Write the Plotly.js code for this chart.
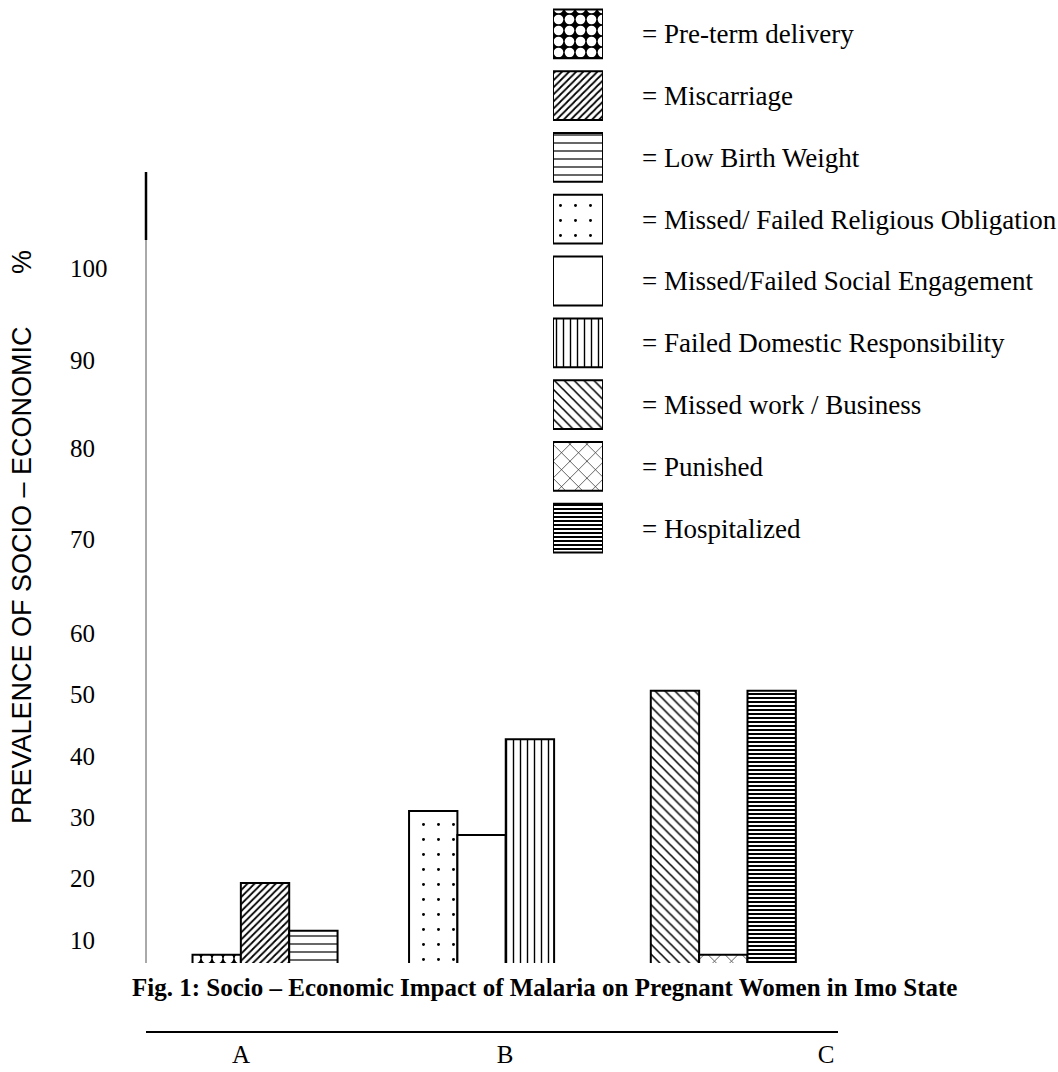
<!DOCTYPE html>
<html>
<head>
<meta charset="utf-8">
<script src="https://cdn.plot.ly/plotly-3.0.1.min.js"></script>
<style>html,body{margin:0;padding:0;background:#fff;}#chart{width:1058px;height:1072px;}</style>
</head>
<body>
<div id="chart"></div>
<script>
// ---------- data ----------
const groups = ['A', 'B', 'C'];
const seriesNames = [
  'Pre-term delivery',
  'Miscarriage',
  'Low Birth Weight',
  'Missed/ Failed Religious Obligation',
  'Missed/Failed Social Engagement',
  'Failed Domestic Responsibility',
  'Missed work / Business',
  'Punished',
  'Hospitalized'
];
const seriesGroup = ['A', 'A', 'A', 'B', 'B', 'B', 'C', 'C', 'C'];
const seriesValues = [7.6, 19.3, 11.5, 31.0, 27.1, 42.7, 50.6, 7.6, 50.6];
const yTickText = ['10', '20', '30', '40', '50', '60', '70', '80', '90', '100'];

// ---------- layout / style settings ----------
const W = 1058, H = 1072;
const yTickVals = [10, 20, 30, 40, 50, 60, 75.2, 90.1, 104.5, 119.4]; // label spacing as printed
const groupLabelShift = [-0.105, 0.047, 0.448];
const barWidth = 0.211;
const barOffset = [-0.317, -0.106, 0.105, -0.372, -0.161, 0.050, -0.317, -0.106, 0.105];
const patterns = [
  {shape: '.', bgcolor: '#000', fgcolor: '#fff', size: 11, solidity: 0.6},
  {shape: '/', bgcolor: '#fff', fgcolor: '#000', size: 5, solidity: 0.35},
  {shape: '-', bgcolor: '#fff', fgcolor: '#000', size: 8, solidity: 0.15},
  {shape: '.', bgcolor: '#fff', fgcolor: '#000', size: 15, solidity: 0.03},
  {shape: '',  bgcolor: '#fff', fgcolor: '#000', size: 8, solidity: 0.1},
  {shape: '|', bgcolor: '#fff', fgcolor: '#000', size: 7, solidity: 0.2},
  {shape: '\\', bgcolor: '#fff', fgcolor: '#000', size: 7, solidity: 0.22},
  {shape: 'x', bgcolor: '#fff', fgcolor: '#000', size: 12, solidity: 0.1},
  {shape: '-', bgcolor: '#fff', fgcolor: '#000', size: 4, solidity: 0.5}
];
const serif = 'Liberation Serif, Times New Roman, serif';
const sans = 'Liberation Sans, Arial, sans-serif';
const px = v => v / W;             // x pixel -> paper
const py = v => (H - v) / H;       // y pixel -> paper

// ---------- traces ----------
const traces = seriesNames.map((name, i) => ({
  type: 'bar',
  name: name,
  x: [groups.indexOf(seriesGroup[i])],
  y: [seriesValues[i]],
  width: barWidth,
  offset: barOffset[i],
  marker: {
    color: '#fff',
    line: {color: '#000', width: 2},
    pattern: Object.assign({fillmode: 'replace'}, patterns[i])
  },
  hoverinfo: 'skip'
}));

// legend swatches, drawn as a small bar chart of its own
traces.push({
  type: 'bar',
  orientation: 'h',
  x: seriesNames.map(() => 1),
  y: seriesNames,
  width: 0.79,
  xaxis: 'x3',
  yaxis: 'y3',
  marker: {
    color: '#fff',
    line: {color: '#000', width: 2},
    pattern: {
      fillmode: 'replace',
      shape: patterns.map(p => p.shape),
      bgcolor: patterns.map(p => p.bgcolor),
      fgcolor: patterns.map(p => p.fgcolor),
      size: patterns.map(p => p.size),
      solidity: patterns.map(p => p.solidity)
    }
  },
  hoverinfo: 'skip'
});

const yDomTop = 172, yDomBot = 1031;
const ydom = v => (yDomBot - v) / (yDomBot - yDomTop);

const layout = {
  width: W, height: H,
  margin: {l: 0, r: 0, t: 0, b: 0, pad: 0},
  paper_bgcolor: '#fff', plot_bgcolor: '#fff',
  showlegend: false,
  hovermode: false,
  barmode: 'overlay',
  font: {family: serif, color: '#000'},
  xaxis: {
    type: 'linear',
    domain: [px(146), px(838)],
    range: [-0.52, 2.5],
    showgrid: false, zeroline: false,
    showline: true, linecolor: '#000', linewidth: 2,
    ticks: '',
    tickmode: 'array',
    tickvals: groups.map((g, i) => i + groupLabelShift[i]),
    ticktext: groups,
    tickfont: {family: serif, size: 25, color: '#000'},
    ticklabelstandoff: 0,
    automargin: false, fixedrange: true
  },
  yaxis: {
    domain: [py(yDomBot), py(yDomTop)],
    range: [-4.82, 135.08],
    side: 'right', anchor: 'free', position: px(69),
    showgrid: false, zeroline: false, showline: false,
    ticks: '',
    tickmode: 'array',
    tickvals: yTickVals,
    ticktext: yTickText,
    tickfont: {family: serif, size: 25, color: '#000'},
    ticklabelstandoff: 0,
    automargin: false, fixedrange: true
  },
  xaxis3: {
    domain: [px(553), px(603)],
    anchor: 'y3',
    range: [0, 1],
    visible: false, fixedrange: true
  },
  yaxis3: {
    domain: [py(559), py(3)],
    anchor: 'x3',
    type: 'category',
    range: [8.5, -0.5],
    side: 'right',
    showgrid: false, zeroline: false, showline: false,
    ticks: '',
    tickmode: 'array',
    tickvals: seriesNames,
    ticktext: seriesNames.map(n => '= ' + n),
    tickfont: {family: serif, size: 27, color: '#000'},
    ticklabelstandoff: 38,
    automargin: false, fixedrange: true
  },
  shapes: [
    {type: 'line', xref: 'x domain', yref: 'y domain', x0: 0, x1: 0,
     y0: ydom(963), y1: ydom(240), line: {color: '#555', width: 1}},
    {type: 'line', xref: 'x domain', yref: 'y domain', x0: 0, x1: 0,
     y0: ydom(240), y1: 1, line: {color: '#000', width: 2.5}},
    {type: 'rect', xref: 'paper', yref: 'paper', layer: 'above',
     x0: px(138), x1: px(850), y0: py(1024), y1: py(963),
     fillcolor: '#fff', line: {width: 0}}
  ],
  annotations: [
    {xref: 'paper', yref: 'paper', x: px(544), y: py(988),
     xanchor: 'center', yanchor: 'middle', showarrow: false,
     text: '<b>Fig. 1: Socio – Economic Impact of Malaria on Pregnant Women in Imo State</b>',
     font: {family: serif, size: 25, color: '#000'}},
    {xref: 'paper', yref: 'paper', x: px(22), y: py(537),
     xanchor: 'center', yanchor: 'middle', showarrow: false, textangle: -90,
     text: 'PREVALENCE OF SOCIO – ECONOMIC\u00A0\u00A0\u00A0\u00A0\u00A0\u00A0\u00A0%',
     font: {family: sans, size: 27, color: '#000'}}
  ]
};

Plotly.newPlot('chart', traces, layout, {staticPlot: true, displayModeBar: false});
</script>
</body>
</html>
